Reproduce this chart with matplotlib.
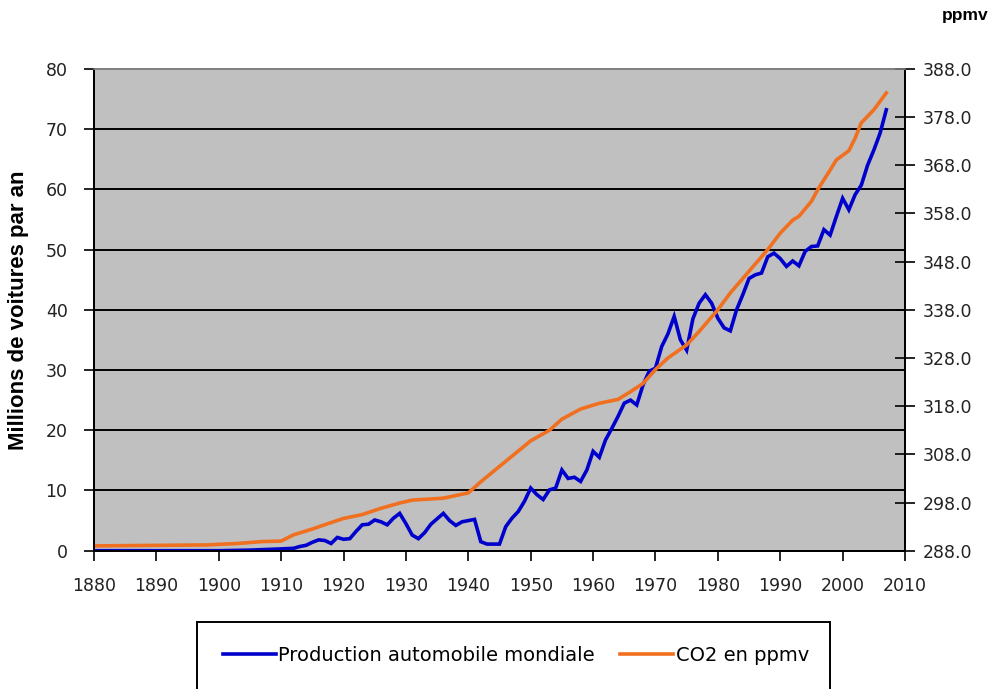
import matplotlib.pyplot as plt
from matplotlib.patches import Rectangle
from matplotlib.ticker import FormatStrFormatter

# Production automobile mondiale (millions de voitures par an)
annees_auto = [1880, 1890, 1900, 1905, 1910, 1912, 1913, 1914, 1915, 1916,
               1917, 1918, 1919, 1920, 1921, 1922, 1923, 1924, 1925, 1926,
               1927, 1928, 1929, 1930, 1931, 1932, 1933, 1934, 1935, 1936,
               1937, 1938, 1939, 1940, 1941, 1942, 1943, 1944, 1945, 1946,
               1947, 1948, 1949, 1950, 1951, 1952, 1953, 1954, 1955, 1956,
               1957, 1958, 1959, 1960, 1961, 1962, 1963, 1964, 1965, 1966,
               1967, 1968, 1969, 1970, 1971, 1972, 1973, 1974, 1975, 1976,
               1977, 1978, 1979, 1980, 1981, 1982, 1983, 1984, 1985, 1986,
               1987, 1988, 1989, 1990, 1991, 1992, 1993, 1994, 1995, 1996,
               1997, 1998, 1999, 2000, 2001, 2002, 2003, 2004, 2005, 2006,
               2007]
voitures = [0.0, 0.0, 0.0, 0.1, 0.3, 0.4, 0.7, 0.9, 1.4, 1.8,
            1.7, 1.2, 2.2, 1.9, 2.0, 3.2, 4.3, 4.4, 5.1, 4.8,
            4.3, 5.4, 6.2, 4.5, 2.6, 2.0, 3.0, 4.4, 5.3, 6.2,
            5.0, 4.2, 4.8, 5.0, 5.2, 1.5, 1.1, 1.1, 1.1, 4.0,
            5.4, 6.5, 8.2, 10.4, 9.3, 8.5, 10.1, 10.4, 13.4, 12.0,
            12.2, 11.5, 13.4, 16.5, 15.5, 18.4, 20.3, 22.3, 24.5, 25.0,
            24.2, 27.5, 29.8, 30.3, 33.9, 36.0, 38.9, 35.0, 33.3, 38.5,
            41.1, 42.5, 41.1, 38.6, 37.0, 36.5, 40.0, 42.5, 45.2, 45.8,
            46.1, 48.8, 49.4, 48.5, 47.2, 48.1, 47.3, 49.7, 50.5, 50.6,
            53.3, 52.4, 55.5, 58.5, 56.6, 59.1, 60.7, 64.0, 66.5, 69.3,
            73.2]

# Concentration de CO2 (ppmv)
annees_co2 = [1880, 1898, 1903, 1907, 1910, 1912, 1915, 1917, 1920, 1923,
              1926, 1929, 1931, 1936, 1940, 1942, 1945, 1950, 1953, 1955,
              1958, 1961, 1964, 1966, 1968, 1970, 1972, 1975, 1977, 1980,
              1982, 1984, 1986, 1988, 1990, 1992, 1993, 1995, 1996, 1998,
              1999, 2001, 2002, 2003, 2005, 2007]
co2 = [289.0, 289.2, 289.5, 289.9, 290.0, 291.3, 292.5, 293.4, 294.7, 295.5,
       296.8, 297.9, 298.5, 298.9, 300.0, 302.3, 305.5, 310.8, 313.0, 315.3,
       317.4, 318.6, 319.4, 321.0, 322.7, 325.6, 328.0, 330.7, 333.5, 338.0,
       341.5, 344.5, 347.5, 350.5, 353.9, 356.6, 357.4, 360.5, 362.9, 367.0,
       369.1, 371.0, 373.6, 376.8, 379.5, 383.0]

ticks_gauche = list(range(0, 81, 10))
ticks_droite = list(range(288, 389, 10))
ticks_annees = list(range(1880, 2011, 10))

bleu = '#0000CC'
orange = '#F07020'
police = 'DejaVu Sans'

fig = plt.figure(figsize=(10.01, 6.89), dpi=100)
ax = fig.add_axes([0.0939, 0.2007, 0.8102, 0.6994])
ax.set_facecolor('#C0C0C0')

ax.plot(annees_auto, voitures, color=bleu, lw=2.6, solid_joinstyle='miter',
        label='Production automobile mondiale')

ax.set_xlim(1880, 2010)
ax.set_ylim(0, 80)
ax.set_xticks(ticks_annees)
ax.set_yticks(ticks_gauche)

# quadrillage horizontal noir
for v in ticks_gauche[1:-1]:
    ax.axhline(v, color='black', lw=1.4, zorder=1)

ax.tick_params(axis='y', direction='out', length=7, width=1.2, pad=12,
               labelsize=12.5, colors='black')
ax.tick_params(axis='x', direction='out', length=7, width=1.2, pad=12,
               labelsize=12.5)
for lab in ax.get_xticklabels() + ax.get_yticklabels():
    lab.set_fontfamily(police)
    lab.set_color('#222222')

ax.set_ylabel('Millions de voitures par an', fontsize=16, fontweight='bold',
              family='Liberation Sans', labelpad=12)

# axe de droite : CO2
ax2 = ax.twinx()
ax2.plot(annees_co2, co2, color=orange, lw=2.6, label='CO2 en ppmv')
ax2.set_ylim(288, 388)
ax2.set_yticks(ticks_droite)
ax2.yaxis.set_major_formatter(FormatStrFormatter('%.1f'))
ax2.tick_params(axis='y', direction='inout', length=14, width=1.2, pad=6,
                labelsize=12.5)
for lab in ax2.get_yticklabels():
    lab.set_fontfamily(police)
    lab.set_color('#222222')

for a in (ax, ax2):
    for s in ('left', 'right', 'bottom'):
        a.spines[s].set_color('black')
        a.spines[s].set_linewidth(1.4)
    a.spines['top'].set_color('#808080')
    a.spines['top'].set_linewidth(1.2)

fig.text(0.964, 0.988, 'ppmv', fontsize=12.5, fontweight='bold',
         family='Liberation Sans', ha='center', va='top')

# cadre de la légende
fig.patches.append(Rectangle((0.1968, -0.02), 0.6324, 1 - 622 / 689 + 0.02,
                             transform=fig.transFigure, facecolor='white',
                             edgecolor='black', lw=1.4))
h1, l1 = ax.get_legend_handles_labels()
h2, l2 = ax2.get_legend_handles_labels()
fig.legend(h1 + h2, l1 + l2, loc='center', bbox_to_anchor=(0.5155, 0.049),
           ncol=2, frameon=False, prop={'family': police, 'size': 14},
           handlelength=2.7, handletextpad=0.15, columnspacing=1.3)

fig.savefig('out.png', dpi=100)
